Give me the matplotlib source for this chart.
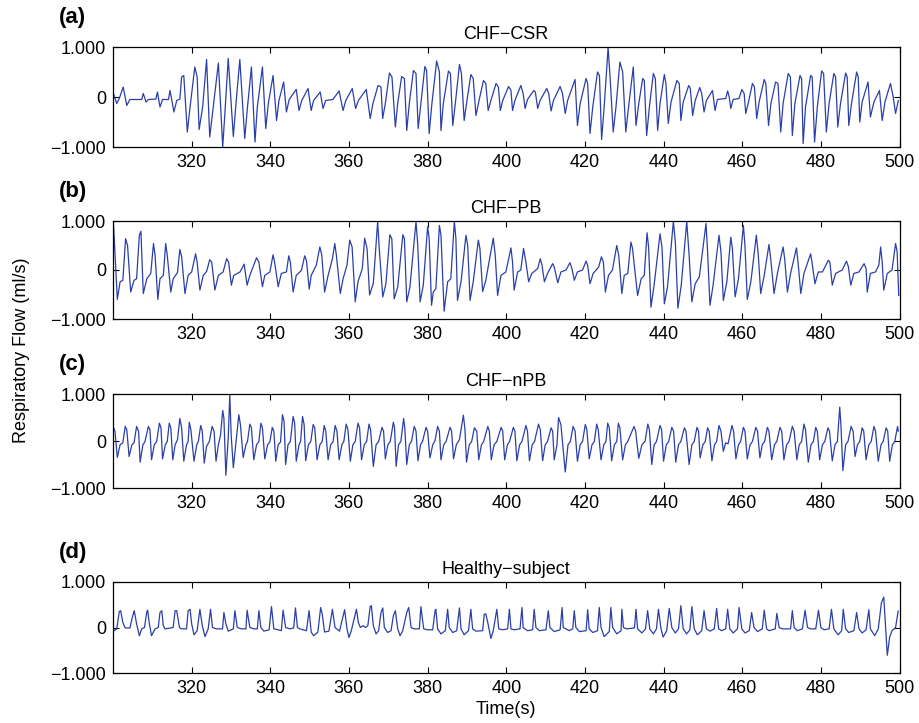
import matplotlib
matplotlib.use("Agg")
import matplotlib.pyplot as plt

plt.rcParams["font.family"] = ["Liberation Sans", "DejaVu Sans"]

# Key points (time s, flow): peaks, shoulders, troughs, baseline corners
csr_points = [
    (300.0, 0.10), (300.95, -0.13), (301.6, -0.03), (302.6, 0.20), (303.5, -0.17), (304.3, -0.05),
    (307.3, -0.05), (307.7, 0.07), (308.4, -0.10), (309.0, -0.05), (310.9, -0.04), (311.3, 0.10),
    (311.95, -0.20), (312.6, -0.05), (314.1, -0.05), (314.5, 0.13), (315.5, -0.30), (316.2, -0.07),
    (317.0, -0.04), (317.45, 0.40), (318.0, 0.43), (318.9, -0.70), (319.6, -0.20), (320.8, 0.60),
    (321.4, 0.40), (321.9, -0.65), (322.8, -0.20), (323.8, 0.75), (324.6, -0.80), (325.5, -0.20),
    (326.8, 0.68), (327.9, -1.00), (328.45, -0.33), (329.3, 0.77), (330.6, -0.79), (331.2, -0.20),
    (332.25, 0.75), (333.5, -0.83), (334.2, -0.20), (335.2, 0.60), (336.1, -0.90), (336.7, -0.20),
    (338.0, 0.60), (338.85, -0.63), (339.5, -0.13), (340.7, 0.43), (341.6, -0.47), (342.2, -0.07),
    (343.4, 0.30), (344.1, -0.30), (344.8, -0.05), (346.6, 0.15), (347.3, -0.27), (348.0, -0.07),
    (349.6, 0.17), (350.4, -0.27), (351.0, -0.07), (352.7, 0.10), (353.4, -0.23), (354.1, -0.07),
    (355.9, -0.05), (357.5, 0.12), (358.5, -0.27), (359.2, -0.07), (360.85, 0.17), (361.7, -0.23),
    (362.4, -0.07), (364.4, 0.15), (365.4, -0.43), (366.1, -0.13), (367.4, 0.23), (368.15, 0.20),
    (368.57, -0.43), (369.25, -0.13), (370.3, 0.48), (370.94, 0.40), (371.8, -0.60), (372.4, -0.13),
    (373.4, 0.41), (374.1, 0.37), (374.7, -0.67), (375.35, -0.13), (376.4, 0.53), (377.05, 0.47),
    (377.6, -0.63), (378.3, -0.13), (379.3, 0.61), (379.75, 0.53), (380.4, -0.73), (381.1, -0.13),
    (382.3, 0.72), (383.0, 0.50), (383.4, -0.67), (384.0, -0.13), (385.3, 0.52), (385.8, 0.47),
    (386.4, -0.57), (387.05, -0.13), (388.1, 0.65), (388.6, 0.47), (389.3, -0.47), (389.9, -0.13),
    (391.0, 0.45), (391.6, 0.37), (392.3, -0.37), (393.0, -0.10), (394.2, 0.33), (394.8, 0.27),
    (395.4, -0.27), (396.1, -0.07), (397.4, 0.27), (398.0, 0.20), (398.5, -0.27), (399.1, -0.07),
    (400.6, 0.21), (401.2, 0.13), (401.6, -0.27), (402.2, -0.07), (403.7, 0.23), (404.3, 0.07),
    (404.8, -0.23), (405.4, -0.05), (407.0, 0.13), (407.4, 0.10), (408.0, -0.23), (408.6, -0.07),
    (410.3, 0.17), (410.8, 0.07), (411.4, -0.28), (412.0, -0.07), (413.7, 0.21), (414.3, 0.07),
    (415.0, -0.33), (415.6, -0.07), (417.5, 0.35), (418.1, -0.57), (418.8, -0.13), (420.3, 0.37),
    (420.7, 0.27), (421.3, -0.73), (422.0, -0.20), (423.2, 0.50), (423.7, 0.43), (424.25, -0.85),
    (424.9, -0.20), (425.9, 0.99), (426.4, 0.40), (427.2, -0.70), (427.9, -0.20), (428.9, 0.70),
    (429.6, 0.50), (430.4, -0.70), (431.1, -0.20), (432.3, 0.60), (433.0, -0.57), (433.7, -0.13),
    (434.7, 0.37), (435.1, 0.33), (435.7, -0.77), (436.4, -0.20), (437.4, 0.47), (437.9, 0.37),
    (438.5, -0.67), (439.1, -0.13), (440.2, 0.45), (440.6, 0.27), (441.2, -0.53), (441.9, -0.10),
    (443.4, 0.33), (444.0, 0.27), (444.4, -0.47), (445.0, -0.10), (446.4, 0.23), (446.8, 0.17),
    (447.4, -0.37), (448.05, -0.07), (449.2, 0.19), (449.7, 0.07), (450.3, -0.30), (450.9, -0.07),
    (452.45, 0.13), (453.1, -0.27), (453.7, -0.05), (455.8, -0.03), (456.3, 0.12), (456.7, 0.00),
    (457.1, -0.23), (457.7, -0.05), (459.2, -0.03), (459.9, 0.15), (460.5, 0.07), (460.9, -0.33),
    (461.6, -0.10), (462.6, 0.27), (463.1, 0.20), (463.7, -0.43), (464.3, -0.10), (465.6, 0.35),
    (466.0, 0.27), (466.7, -0.57), (467.3, -0.13), (468.5, 0.30), (469.1, 0.27), (469.8, -0.70),
    (470.4, -0.13), (471.7, 0.47), (472.25, 0.40), (472.75, -0.77), (473.4, -0.13), (474.7, 0.43),
    (475.1, 0.37), (475.5, -0.93), (476.1, -0.20), (477.4, 0.43), (477.8, 0.40), (478.4, -0.90),
    (479.1, -0.20), (480.2, 0.52), (480.7, 0.47), (481.4, -0.70), (482.1, -0.13), (483.3, 0.47),
    (483.75, 0.40), (484.3, -0.60), (485.0, -0.13), (486.3, 0.48), (486.7, 0.40), (487.1, -0.57),
    (487.8, -0.13), (489.1, 0.50), (489.5, 0.40), (489.9, -0.50), (490.5, -0.10), (492.0, 0.30),
    (492.6, -0.40), (493.5, -0.10), (494.9, 0.13), (495.6, -0.47), (496.3, -0.10), (497.7, 0.27),
    (498.4, 0.00), (499.0, -0.33), (499.7, -0.07),
]

pb_points = [
    (300.1, 0.98), (301.1, -0.60), (301.8, -0.24), (302.5, -0.21), (303.2, 0.64), (303.7, 0.50),
    (304.5, -0.45), (305.35, -0.21), (306.0, -0.18), (306.7, 0.71), (307.1, 0.79), (307.7, -0.48),
    (308.6, -0.18), (309.6, -0.07), (310.3, 0.54), (310.7, 0.30), (311.4, -0.60), (311.95, -0.18),
    (312.8, -0.11), (313.4, 0.54), (313.8, 0.30), (314.7, -0.45), (315.3, -0.18), (316.4, -0.05),
    (317.0, 0.42), (317.45, 0.27), (318.3, -0.48), (319.1, -0.11), (320.0, -0.04), (321.0, 0.33),
    (321.4, 0.16), (322.1, -0.41), (322.95, -0.11), (323.8, -0.03), (324.6, 0.21), (325.1, 0.16),
    (325.9, -0.41), (326.8, -0.11), (328.0, -0.04), (328.9, 0.23), (329.4, 0.16), (330.1, -0.31),
    (330.7, -0.11), (332.3, -0.04), (333.35, 0.12), (334.1, -0.31), (334.8, -0.11), (336.5, 0.25),
    (337.1, 0.16), (338.0, -0.34), (338.6, -0.11), (339.9, -0.04), (340.7, 0.31), (341.1, 0.16),
    (342.0, -0.34), (342.8, -0.07), (344.1, -0.04), (344.7, 0.29), (345.1, 0.16), (345.8, -0.45),
    (346.6, -0.11), (347.9, -0.01), (348.75, 0.29), (349.2, 0.19), (349.9, -0.39), (350.4, -0.11),
    (351.7, 0.10), (352.6, 0.47), (353.1, 0.30), (353.8, -0.45), (354.7, -0.11), (355.8, 0.23),
    (356.4, 0.54), (356.8, 0.30), (357.8, -0.48), (358.5, -0.18), (359.5, 0.10), (360.2, 0.61),
    (360.8, 0.47), (361.6, -0.65), (362.3, -0.24), (363.4, 0.03), (364.0, 0.65), (364.6, 0.44),
    (365.25, -0.51), (366.2, -0.27), (367.3, 0.99), (367.7, 0.44), (368.6, -0.55), (369.4, -0.28),
    (370.4, 0.72), (370.9, 0.64), (371.5, -0.59), (372.4, -0.35), (373.7, 0.72), (374.1, 0.64),
    (374.7, -0.65), (375.5, -0.35), (377.05, 0.99), (377.5, 0.50), (378.1, -0.65), (378.9, -0.31),
    (380.0, 0.88), (380.4, 0.64), (381.0, -0.72), (381.45, -0.45), (382.1, -0.38), (383.0, 0.91),
    (383.4, 0.71), (384.2, -0.84), (385.1, -0.24), (385.9, -0.18), (386.8, 0.99), (387.2, 0.64),
    (387.6, -0.62), (388.5, -0.24), (389.75, 0.71), (390.2, 0.50), (390.8, -0.62), (391.6, -0.24),
    (392.9, 0.61), (393.3, 0.44), (394.0, -0.44), (394.8, -0.21), (396.7, 0.65), (397.2, 0.30),
    (397.8, -0.52), (398.65, -0.11), (399.9, -0.04), (401.2, 0.45), (401.6, 0.16), (402.0, -0.41),
    (402.9, -0.04), (403.7, 0.00), (404.4, 0.44), (405.0, 0.16), (405.7, -0.24), (406.5, -0.07),
    (408.0, 0.03), (408.65, 0.23), (409.1, 0.10), (409.7, -0.24), (410.5, -0.07), (411.8, 0.13),
    (412.2, 0.06), (413.1, -0.26), (413.9, -0.04), (415.2, 0.00), (416.2, 0.15), (416.7, 0.03),
    (417.3, -0.21), (418.1, -0.04), (419.4, 0.00), (420.3, 0.18), (420.7, 0.10), (421.3, -0.28),
    (422.1, -0.07), (423.5, 0.06), (424.2, 0.27), (424.7, 0.16), (425.2, -0.45), (426.0, -0.11),
    (427.0, 0.00), (428.1, 0.50), (428.6, 0.30), (429.4, -0.48), (430.0, -0.11), (430.9, -0.07),
    (431.7, 0.57), (432.1, 0.44), (433.4, -0.52), (434.3, -0.18), (435.1, -0.11), (435.8, 0.76),
    (436.2, 0.47), (436.8, -0.76), (437.6, -0.31), (439.1, 0.74), (439.6, 0.47), (440.2, -0.69),
    (441.0, -0.35), (442.5, 0.99), (443.0, 0.57), (443.65, -0.78), (444.5, -0.31), (445.9, 0.99),
    (446.5, 0.30), (447.2, -0.65), (448.05, -0.28), (449.1, -0.14), (450.8, 0.95), (451.2, 0.37),
    (451.8, -0.72), (452.6, -0.31), (454.1, 0.71), (454.6, 0.37), (455.2, -0.62), (456.1, -0.24),
    (457.1, 0.67), (457.5, 0.44), (458.2, -0.55), (459.05, -0.18), (460.3, 0.91), (460.7, 0.50),
    (461.3, -0.60), (462.2, -0.24), (463.6, 0.71), (464.1, 0.30), (464.7, -0.48), (465.6, -0.11),
    (466.8, 0.52), (467.25, 0.23), (468.1, -0.48), (468.95, -0.07), (470.4, 0.47), (470.8, 0.23),
    (471.5, -0.45), (472.3, -0.07), (473.8, 0.45), (474.2, 0.16), (474.9, -0.48), (475.7, -0.07),
    (477.4, 0.33), (477.8, 0.13), (478.5, -0.28), (479.35, -0.04), (480.4, -0.04), (481.9, 0.20),
    (482.3, 0.16), (482.9, -0.31), (483.75, -0.07), (485.45, 0.00), (486.5, 0.18), (487.0, 0.07),
    (487.6, -0.31), (488.4, -0.07), (489.7, -0.04), (491.0, 0.13), (491.5, 0.03), (491.8, -0.45),
    (492.6, -0.07), (493.9, -0.04), (494.75, 0.10), (495.2, 0.47), (495.6, 0.16), (496.0, -0.41),
    (496.9, -0.07), (498.1, 0.00), (499.0, 0.54), (499.4, 0.37), (499.8, -0.52),
]

npb_points = [
    (300.1, 0.29), (300.5, 0.21), (301.1, -0.35), (301.8, -0.08), (302.5, -0.04), (303.1, 0.31),
    (303.5, 0.24), (304.1, -0.33), (304.8, -0.08), (305.35, -0.04), (306.0, 0.31), (306.5, 0.21),
    (306.9, -0.45), (307.6, -0.08), (308.1, -0.02), (309.0, 0.31), (309.4, 0.24), (309.8, -0.40),
    (310.5, -0.08), (311.1, -0.01), (311.8, 0.38), (312.2, 0.28), (312.6, -0.38), (313.3, -0.08),
    (313.8, -0.01), (314.3, 0.38), (314.7, 0.28), (315.2, -0.40), (315.8, -0.08), (316.4, 0.03),
    (317.0, 0.48), (317.45, 0.28), (318.0, -0.43), (318.7, -0.08), (319.1, -0.01), (319.4, 0.40),
    (319.8, 0.24), (320.6, -0.43), (321.3, -0.08), (321.7, -0.01), (322.3, 0.33), (322.7, 0.21),
    (323.2, -0.47), (323.8, -0.11), (324.5, -0.01), (325.2, 0.31), (325.7, 0.21), (326.2, -0.43),
    (326.8, -0.08), (327.35, 0.13), (327.9, 0.65), (328.2, 0.49), (328.7, -0.73), (329.3, 0.06),
    (329.7, 0.99), (330.05, 0.13), (330.6, -0.57), (331.2, -0.08), (332.0, 0.56), (332.4, 0.35),
    (333.1, -0.35), (333.8, -0.08), (334.2, -0.01), (334.8, 0.36), (335.2, 0.28), (335.8, -0.40),
    (336.5, -0.08), (337.1, -0.01), (337.6, 0.38), (338.0, 0.28), (338.6, -0.38), (339.3, -0.08),
    (339.9, -0.02), (340.5, 0.29), (340.9, 0.21), (341.4, -0.43), (342.0, -0.08), (342.6, -0.02),
    (343.1, 0.56), (343.5, 0.42), (343.9, -0.50), (344.5, -0.08), (345.1, -0.01), (345.8, 0.52),
    (346.2, 0.38), (346.6, -0.43), (347.3, -0.08), (347.7, -0.01), (348.2, 0.52), (348.6, 0.35),
    (349.0, -0.42), (349.7, -0.08), (350.3, -0.01), (350.9, 0.35), (351.3, 0.28), (351.9, -0.40),
    (352.6, -0.08), (353.2, -0.01), (353.7, 0.33), (354.1, 0.21), (354.7, -0.40), (355.35, -0.08),
    (355.95, -0.02), (356.5, 0.33), (356.95, 0.21), (357.5, -0.40), (358.2, -0.08), (358.7, -0.01),
    (359.3, 0.36), (359.75, 0.24), (360.35, -0.43), (361.0, -0.08), (361.6, -0.01), (362.3, 0.38),
    (362.7, 0.28), (363.2, -0.40), (363.9, -0.08), (364.5, -0.01), (365.1, 0.36), (365.5, 0.24),
    (366.2, -0.54), (366.9, -0.08), (367.55, -0.01), (368.4, 0.29), (368.8, 0.21), (369.25, -0.38),
    (369.9, -0.08), (370.5, -0.01), (371.3, 0.40), (371.6, 0.28), (372.0, -0.54), (372.6, -0.08),
    (373.2, -0.01), (373.9, 0.48), (374.2, 0.28), (374.7, -0.50), (375.35, -0.08), (375.9, -0.01),
    (376.6, 0.31), (377.05, 0.21), (377.55, -0.42), (378.2, -0.08), (378.7, -0.01), (379.6, 0.29),
    (380.0, 0.21), (380.6, -0.36), (381.3, -0.08), (381.9, 0.01), (382.55, 0.31), (383.0, 0.21),
    (383.4, -0.40), (384.1, -0.08), (384.7, -0.01), (385.7, 0.29), (386.1, 0.21), (386.6, -0.38),
    (387.3, -0.08), (388.1, 0.03), (389.1, 0.55), (389.5, 0.24), (389.9, -0.45), (390.6, -0.08),
    (391.2, -0.01), (391.9, 0.28), (392.5, 0.21), (393.0, -0.40), (393.7, -0.08), (394.25, -0.01),
    (395.3, 0.31), (395.7, 0.21), (396.2, -0.40), (396.9, -0.08), (397.6, -0.01), (398.7, 0.29),
    (399.1, 0.21), (399.6, -0.40), (400.3, -0.08), (400.85, -0.01), (401.8, 0.29), (402.2, 0.21),
    (402.7, -0.42), (403.4, -0.08), (404.0, -0.01), (405.0, 0.33), (405.4, 0.21), (405.9, -0.42),
    (406.6, -0.08), (407.2, -0.01), (408.2, 0.36), (408.65, 0.24), (409.25, -0.42), (409.9, -0.08),
    (410.5, -0.01), (411.4, 0.28), (411.8, 0.21), (412.2, -0.40), (412.9, -0.08), (413.3, 0.50),
    (413.9, 0.35), (415.0, -0.66), (415.7, -0.08), (416.3, -0.01), (417.0, 0.31), (417.5, 0.21),
    (418.1, -0.43), (418.8, -0.08), (419.4, -0.01), (420.1, 0.35), (420.5, 0.24), (421.1, -0.38),
    (421.8, -0.08), (422.4, -0.01), (423.0, 0.36), (423.4, 0.24), (424.1, -0.40), (424.8, -0.08),
    (425.35, -0.01), (425.8, 0.38), (426.2, 0.28), (426.8, -0.42), (427.5, -0.08), (428.1, -0.01),
    (428.5, 0.38), (428.9, 0.28), (429.6, -0.40), (430.3, -0.08), (430.9, -0.01), (432.5, 0.31),
    (432.9, 0.21), (433.7, -0.37), (434.5, -0.08), (435.3, -0.01), (436.0, 0.36), (436.4, 0.24),
    (437.0, -0.50), (437.6, -0.08), (438.2, -0.01), (439.1, 0.33), (439.5, 0.24), (440.0, -0.43),
    (440.7, -0.08), (441.3, -0.01), (442.1, 0.29), (442.55, 0.21), (443.1, -0.45), (443.8, -0.08),
    (444.4, -0.01), (445.3, 0.28), (445.7, 0.21), (446.5, -0.50), (447.2, -0.08), (447.8, -0.01),
    (448.5, 0.29), (448.9, 0.21), (449.3, -0.36), (450.0, -0.08), (450.6, -0.01), (451.2, 0.28),
    (451.6, 0.21), (452.3, -0.42), (452.95, -0.08), (453.5, -0.01), (454.1, 0.33), (454.6, 0.21),
    (455.2, -0.22), (455.8, -0.04), (456.4, -0.06), (457.4, 0.33), (457.8, 0.21), (458.4, -0.38),
    (459.05, -0.08), (459.6, -0.01), (460.3, 0.29), (460.7, 0.21), (461.3, -0.38), (462.0, -0.08),
    (462.6, -0.01), (463.45, 0.29), (463.9, 0.21), (464.5, -0.36), (465.1, -0.08), (465.7, -0.01),
    (466.4, 0.29), (466.8, 0.21), (467.5, -0.40), (468.2, -0.08), (468.8, -0.01), (469.6, 0.29),
    (470.05, 0.21), (470.6, -0.40), (471.3, -0.08), (471.9, -0.01), (472.75, 0.31), (473.2, 0.21),
    (473.9, -0.40), (474.5, -0.08), (475.1, -0.01), (475.7, 0.36), (476.1, 0.24), (476.8, -0.45),
    (477.5, -0.08), (478.1, -0.01), (478.7, 0.29), (479.1, 0.21), (479.7, -0.40), (480.4, -0.08),
    (481.0, -0.01), (481.8, 0.28), (482.2, 0.21), (482.9, -0.42), (483.6, -0.08), (484.2, -0.01),
    (484.8, 0.72), (485.1, 0.35), (485.6, -0.63), (486.3, -0.08), (486.9, -0.01), (487.7, 0.31),
    (488.2, 0.21), (488.7, -0.33), (489.3, -0.08), (489.9, -0.01), (490.5, 0.28), (490.9, 0.21),
    (491.5, -0.40), (492.2, -0.08), (492.8, -0.01), (493.5, 0.31), (493.9, 0.21), (494.6, -0.43),
    (495.3, -0.08), (495.85, -0.01), (496.6, 0.28), (497.0, 0.21), (497.5, -0.43), (498.2, -0.08),
    (498.8, -0.01), (499.5, 0.31), (499.7, 0.21),
]

healthy_points = [
    (300.1, -0.08), (300.95, -0.03), (301.6, 0.35), (301.95, 0.37), (302.5, 0.11), (303.1, -0.01),
    (304.3, -0.01), (304.9, 0.22), (305.4, 0.37), (306.0, 0.08), (306.7, -0.18), (307.3, -0.03),
    (308.0, 0.00), (308.6, 0.35), (308.8, 0.38), (309.25, 0.08), (309.8, -0.18), (310.7, -0.03),
    (311.5, 0.00), (311.95, 0.33), (312.4, 0.37), (312.8, 0.04), (313.2, -0.03), (315.3, 0.00),
    (315.8, 0.37), (316.2, 0.37), (316.9, 0.00), (317.45, -0.03), (318.7, -0.03), (319.1, 0.37),
    (319.6, 0.40), (320.0, 0.08), (320.6, -0.16), (321.4, -0.07), (322.1, 0.40), (322.7, 0.04),
    (323.4, -0.20), (324.2, -0.03), (324.8, 0.40), (325.3, 0.00), (326.3, -0.03), (327.85, -0.03),
    (328.2, 0.33), (328.7, 0.08), (329.3, -0.08), (330.6, -0.03), (331.0, 0.37), (331.6, 0.00),
    (332.7, -0.03), (333.8, -0.03), (334.1, 0.38), (334.8, 0.00), (335.8, -0.03), (336.7, -0.03),
    (337.1, 0.37), (337.6, 0.00), (338.35, -0.08), (339.7, -0.05), (340.3, 0.46), (340.9, -0.03),
    (342.0, -0.05), (342.8, -0.07), (343.25, 0.38), (343.9, 0.00), (344.95, -0.03), (345.95, -0.01),
    (346.4, 0.43), (346.9, 0.00), (347.5, -0.03), (349.2, -0.07), (349.85, 0.37), (350.4, -0.10),
    (351.0, -0.18), (352.1, -0.10), (352.8, 0.44), (353.2, 0.30), (353.8, -0.10), (354.9, -0.08),
    (355.8, 0.40), (356.45, 0.00), (357.6, -0.08), (358.9, 0.39), (359.5, -0.03), (360.0, -0.22),
    (360.6, -0.07), (361.9, 0.40), (362.4, 0.11), (362.9, 0.00), (363.6, 0.04), (364.2, 0.00),
    (364.8, 0.04), (365.4, 0.46), (365.7, 0.48), (366.2, 0.04), (366.9, -0.14), (367.55, -0.07),
    (368.15, 0.33), (368.6, 0.43), (369.0, 0.00), (369.85, -0.11), (370.7, -0.07), (371.3, 0.26),
    (371.8, 0.37), (372.4, -0.03), (373.0, -0.18), (373.65, -0.08), (374.7, 0.33), (375.2, 0.44),
    (375.8, 0.00), (376.6, -0.03), (377.9, -0.03), (378.3, 0.46), (379.0, -0.03), (380.0, -0.05),
    (381.3, -0.05), (381.9, 0.37), (382.1, 0.40), (382.55, -0.03), (383.4, -0.14), (384.5, -0.07),
    (385.1, 0.40), (385.5, 0.00), (386.4, -0.11), (387.4, -0.07), (388.1, 0.43), (388.5, -0.03),
    (389.3, -0.16), (390.4, -0.07), (391.0, 0.40), (391.45, -0.03), (392.3, -0.08), (394.0, -0.07),
    (394.4, 0.29), (394.8, 0.30), (395.3, 0.11), (396.1, -0.24), (396.7, -0.07), (397.4, 0.29),
    (397.6, 0.40), (398.1, -0.03), (399.1, -0.05), (400.35, -0.03), (400.8, 0.40), (401.2, -0.03),
    (402.0, -0.05), (403.5, -0.03), (404.0, 0.44), (404.3, 0.00), (405.4, -0.07), (406.7, -0.05),
    (407.1, 0.40), (407.55, 0.00), (408.4, -0.07), (410.1, -0.05), (410.7, 0.37), (411.1, 0.00),
    (412.2, -0.09), (413.7, -0.05), (414.2, 0.44), (414.5, 0.00), (416.0, -0.07), (416.9, -0.03),
    (417.3, 0.37), (417.7, 0.00), (418.6, -0.09), (420.3, -0.07), (420.7, 0.39), (421.1, -0.03),
    (422.0, -0.11), (423.2, -0.07), (423.65, 0.44), (424.1, 0.00), (424.9, -0.20), (426.2, -0.09),
    (426.6, 0.44), (427.05, 0.00), (428.1, -0.14), (429.2, -0.07), (429.4, 0.40), (429.8, 0.00),
    (430.6, -0.03), (432.6, -0.01), (433.0, 0.40), (433.4, -0.03), (434.5, -0.12), (435.4, -0.03),
    (435.95, 0.37), (436.5, -0.03), (437.4, -0.14), (438.2, -0.03), (438.7, 0.40), (439.35, -0.03),
    (439.9, -0.21), (440.8, -0.07), (441.45, 0.42), (442.1, 0.00), (443.0, -0.12), (443.8, -0.03),
    (444.4, 0.48), (445.0, -0.03), (445.85, -0.14), (446.7, -0.05), (447.2, 0.46), (447.8, -0.03),
    (448.6, -0.16), (449.7, -0.07), (450.3, 0.37), (450.9, -0.03), (451.8, -0.08), (452.9, -0.03),
    (453.5, 0.42), (454.0, -0.03), (454.8, -0.07), (455.8, -0.03), (456.3, 0.40), (456.85, -0.03),
    (457.7, -0.12), (458.8, -0.03), (459.2, 0.44), (459.9, -0.03), (460.7, -0.12), (461.8, -0.07),
    (462.4, 0.33), (463.0, 0.00), (463.9, -0.09), (465.1, -0.03), (465.6, 0.38), (466.2, -0.03),
    (466.8, -0.07), (468.4, -0.03), (468.8, 0.31), (469.4, 0.00), (470.2, -0.03), (472.3, -0.03),
    (472.75, 0.37), (473.2, 0.00), (474.0, -0.07), (475.3, -0.03), (476.0, 0.38), (476.6, 0.00),
    (477.4, -0.03), (478.7, -0.03), (479.4, 0.38), (480.0, 0.00), (480.8, -0.05), (482.1, -0.03),
    (482.7, 0.40), (483.3, -0.03), (484.4, -0.16), (485.3, -0.07), (485.7, 0.40), (486.3, -0.03),
    (487.1, -0.11), (488.4, -0.07), (489.1, 0.33), (489.7, -0.03), (490.5, -0.12), (491.5, -0.05),
    (492.2, 0.39), (492.6, -0.03), (493.7, -0.18), (494.6, -0.03), (495.4, 0.54), (496.0, 0.67),
    (496.4, 0.09), (496.9, -0.61), (497.5, -0.21), (498.1, -0.07), (499.0, 0.00), (499.66, 0.36),
]

panel_tags = ["(a)", "(b)", "(c)", "(d)"]
panel_titles = ["CHF\u2212CSR", "CHF\u2212PB", "CHF\u2212nPB", "Healthy\u2212subject"]
x_ticks = [320, 340, 360, 380, 400, 420, 440, 460, 480, 500]
y_ticks = [-1, 0, 1]
y_ticklabels = ["\u22121.000", "0", "1.000"]

# axes boxes in pixels: (top, bottom) measured on the 919x723 reference
W, H = 919, 723
boxes = [(47, 147), (221, 319), (394, 488), (582, 673)]
left_px, right_px = 113, 899.5

fig = plt.figure(figsize=(W / 100, H / 100), dpi=100)
line_color = "#2b3fa8"
fs = 13

axes = []
for i, pts in enumerate([csr_points, pb_points, npb_points, healthy_points]):
    top, bot = boxes[i]
    ax = fig.add_axes([left_px / W, 1 - bot / H, (right_px - left_px) / W, (bot - top) / H])
    t = [p[0] for p in pts]
    v = [p[1] for p in pts]
    ax.plot(t, v, color=line_color, linewidth=0.9)
    ax.set_xlim(300, 500)
    ax.set_ylim(-1, 1)
    ax.set_xticks(x_ticks)
    ax.set_xticklabels([str(x) for x in x_ticks], fontsize=fs)
    ax.set_yticks(y_ticks)
    ax.set_yticklabels(y_ticklabels, fontsize=fs)
    ax.tick_params(direction="in", top=True, right=True, length=4, width=0.8, pad=5)
    for s in ax.spines.values():
        s.set_linewidth(0.9)
    ax.set_title(panel_titles[i], fontsize=fs, pad=6)
    fig.text(59 / W, 1 - (top - 24) / H, panel_tags[i], fontsize=16,
             fontweight="bold", ha="left", va="baseline")
    axes.append(ax)

axes[-1].set_xlabel("Time(s)", fontsize=fs, labelpad=3)
fig.text(22 / W, 1 - 350 / H, "Respiratory Flow (ml/s)", fontsize=fs,
         rotation=90, ha="center", va="center")

fig.savefig("out.png", dpi=100)
